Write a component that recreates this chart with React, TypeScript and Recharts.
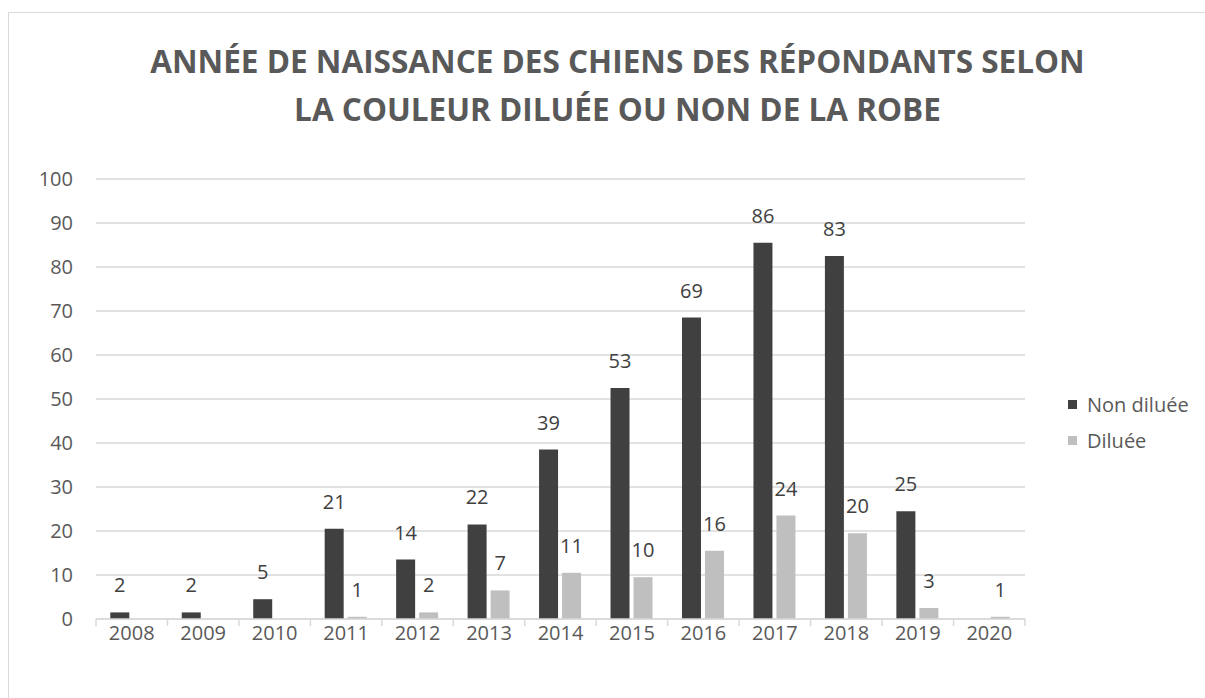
/**
 * Année de naissance des chiens — grouped bar chart (non diluée / diluée).
 */

import { Bar, BarChart, CartesianGrid, LabelList, XAxis, YAxis } from 'recharts';

const YEARS = ['2008', '2009', '2010', '2011', '2012', '2013', '2014', '2015', '2016', '2017', '2018', '2019', '2020'];
const NON_DILUEE = [1.5, 1.5, 4.5, 20.5, 13.5, 21.5, 38.5, 52.5, 68.5, 85.5, 82.5, 24.5, null];
const DILUEE = [null, null, null, 0.5, 1.5, 6.5, 10.5, 9.5, 15.5, 23.5, 19.5, 2.5, 0.5];
const Y_TICKS = [0, 10, 20, 30, 40, 50, 60, 70, 80, 90, 100];

const FONT = '"Open Sans", "Liberation Sans", sans-serif';
const TEXT = '#595959';
const GRID = '#d9d9d9';
const DARK = '#404040';
const LIGHT = '#bfbfbf';

const SERIES = [
  { key: 'nonDiluee', name: 'Non diluée', color: DARK },
  { key: 'diluee', name: 'Diluée', color: LIGHT },
];

const data = YEARS.map((year, i) => ({
  year,
  nonDiluee: NON_DILUEE[i],
  diluee: DILUEE[i],
}));

const W = 1205;
const H = 698;
const PLOT_LEFT = 96;
const PLOT_RIGHT = 1025;

function fmtLabel(v: unknown): string {
  if (v === null || v === undefined) return '';
  return String(Math.round(Number(v)));
}

function XTick(props: any) {
  const { x, y, payload, index } = props;
  const half = payload?.offset || (PLOT_RIGHT - PLOT_LEFT) / YEARS.length / 2;
  const last = index === YEARS.length - 1;
  return (
    <g>
      <line x1={x - half} x2={x - half} y1={y} y2={y + 7} stroke={GRID} strokeWidth={1.5} />
      {last && <line x1={x + half} x2={x + half} y1={y} y2={y + 7} stroke={GRID} strokeWidth={1.5} />}
      <text x={x} y={y + 21} textAnchor="middle" fill={TEXT} fontSize={20} fontFamily={FONT}>
        {payload.value}
      </text>
    </g>
  );
}

function LegendBox() {
  return (
    <div
      style={{
        position: 'absolute',
        left: 1068,
        top: 386,
        fontFamily: FONT,
        fontSize: 20,
        color: TEXT,
      }}
    >
      {SERIES.map((s) => (
        <div key={s.key} style={{ display: 'flex', alignItems: 'center', height: 36 }}>
          <span style={{ display: 'inline-block', width: 9, height: 9, background: s.color, marginRight: 10 }} />
          <span>{s.name}</span>
        </div>
      ))}
    </div>
  );
}

export default function App() {
  return (
    <div style={{ position: 'fixed', left: 0, top: 0, width: W, height: H, overflow: 'hidden', background: '#fff' }}>
      <div
        style={{
          position: 'absolute',
          left: 8,
          top: 12,
          width: 1250,
          height: 750,
          border: `1px solid ${GRID}`,
          boxSizing: 'border-box',
        }}
      />
      <div
        style={{
          position: 'absolute',
          left: 0,
          top: 37,
          width: 1235,
          textAlign: 'center',
          fontFamily: FONT,
          fontWeight: 700,
          fontSize: 31.5,
          lineHeight: '48px',
          color: TEXT,
          whiteSpace: 'nowrap',
        }}
      >
        ANNÉE DE NAISSANCE DES CHIENS DES RÉPONDANTS SELON
        <br />
        LA COULEUR DILUÉE OU NON DE LA ROBE
      </div>
      <div style={{ position: 'absolute', left: 0, top: 0 }}>
        <BarChart
          width={W}
          height={H}
          data={data}
          margin={{ top: 179, right: W - PLOT_RIGHT, bottom: 49, left: 0 }}
          barCategoryGap="20%"
          barGap={4}
        >
          <CartesianGrid vertical={false} stroke={GRID} strokeWidth={1.5} />
          <XAxis
            dataKey="year"
            height={30}
            axisLine={{ stroke: GRID, strokeWidth: 1.5 }}
            tickLine={false}
            tickSize={0}
            tickMargin={0}
            tick={<XTick />}
            interval={0}
          />
          <YAxis
            width={PLOT_LEFT}
            domain={[0, 100]}
            ticks={Y_TICKS}
            axisLine={false}
            tickLine={false}
            tickMargin={17}
            tick={{ fill: TEXT, fontSize: 20, fontFamily: FONT }}
          />
          {SERIES.map((s) => (
            <Bar key={s.key} dataKey={s.key} name={s.name} fill={s.color} isAnimationActive={false}>
              <LabelList
                dataKey={s.key}
                position="top"
                offset={20}
                formatter={fmtLabel}
                fill={DARK}
                fontSize={20}
                fontFamily={FONT}
              />
            </Bar>
          ))}
        </BarChart>
      </div>
      <LegendBox />
    </div>
  );
}
